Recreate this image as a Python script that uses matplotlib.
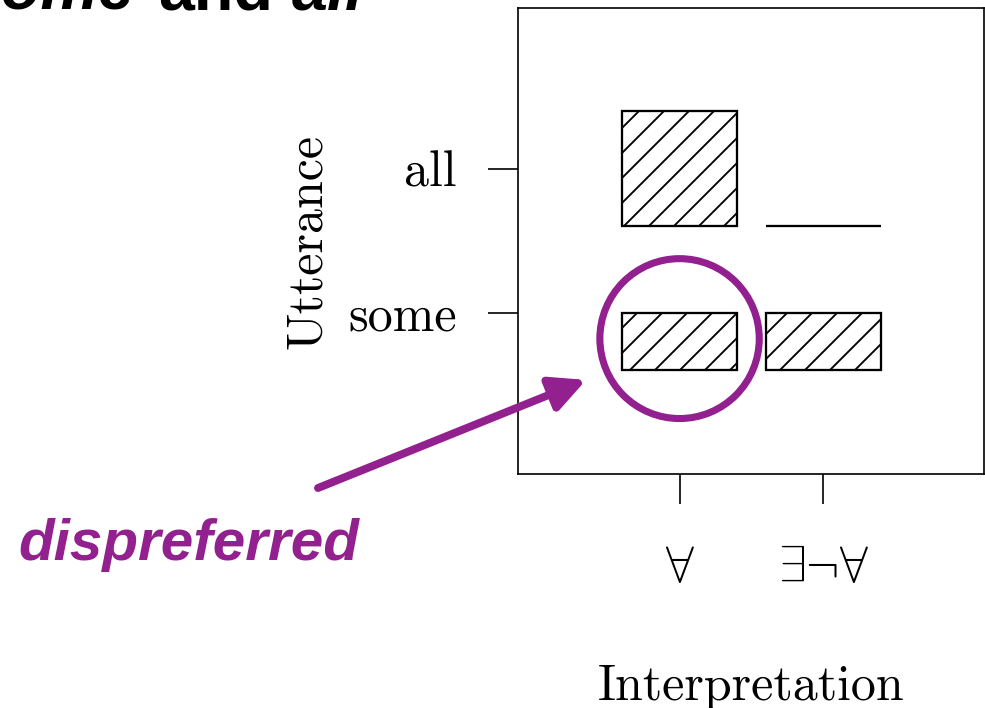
import numpy as np
import matplotlib

matplotlib.use("Agg")
import matplotlib.pyplot as plt
from matplotlib.patches import Circle

# rows = utterance, columns = interpretation
utterances = ["all", "some"]
utterance_pos = [2, 1]
interpretations = [r"$\forall$", r"$\exists\neg\forall$"]
interp_pos = [1, 2]
# P(interpretation | utterance), one row per utterance
probs = [[1.0, 0.0],
         [0.5, 0.5]]

PURPLE = "#92208f"
INK = "#000000"
CELL = 0.8          # size of a full (p=1) box in data units
DPI = 150

plt.rcParams["mathtext.fontset"] = "cm"
plt.rcParams["hatch.linewidth"] = 0.9
plt.rcParams["hatch.color"] = INK

fig = plt.figure(figsize=(985 / DPI, 708 / DPI), dpi=DPI)
fig.patch.set_facecolor("white")
ax = fig.add_axes([518 / 985, 1 - 474 / 708, 466 / 985, 466 / 708])

# boxes sit on the bottom of their cell, height proportional to probability
for yi, row in zip(utterance_pos, probs):
    ax.bar(interp_pos, np.array(row) * CELL, width=CELL, bottom=yi - CELL / 2,
           color="white", edgecolor=INK, hatch="//", lw=1.1)

ax.set_xlim(-0.125, 3.12)
ax.set_ylim(-0.12, 3.115)

ax.set_xticks(interp_pos, interpretations, fontsize=24)
ax.set_yticks(utterance_pos, utterances, fontsize=24, fontfamily="cmr10")
ax.tick_params(axis="both", length=14.4, width=0.8, direction="out", colors=INK)
ax.tick_params(axis="x", pad=19)
ax.tick_params(axis="y", pad=15)
for sp in ax.spines.values():
    sp.set_linewidth(0.8)
    sp.set_color(INK)

ax.set_xlabel("Interpretation", fontsize=24, fontfamily="cmr10")
ax.xaxis.set_label_coords(0.5, -0.457)
ax.xaxis.label.set_verticalalignment("center")
ax.set_ylabel("Utterance", fontsize=24, fontfamily="cmr10")
ax.yaxis.set_label_coords((308 - 518) / 466, 0.5)
ax.yaxis.label.set_verticalalignment("center")

# highlight: circle round the some/forall box, arrow from the note
some_i = utterances.index("some")
ax.add_patch(Circle((interp_pos[0], utterance_pos[some_i] - CELL / 2 + probs[some_i][0] * CELL / 2 + 0.02),
                    0.555, fill=False, ec=PURPLE, lw=3.4))
ax.annotate("", xy=(0.349, 0.533), xycoords="data",
            xytext=(318 / 985, 1 - 488 / 708), textcoords="figure fraction",
            arrowprops=dict(arrowstyle="-|>,head_length=0.7,head_width=0.35",
                            mutation_scale=20, lw=3.8, color=PURPLE,
                            shrinkA=0, shrinkB=0),
            annotation_clip=False)
fig.text(18 / 985, 1 - 560 / 708, "dispreferred", fontsize=28, fontweight="bold",
         fontstyle="italic", fontfamily="Liberation Sans", color=PURPLE, va="baseline")

# slide title, cut off by the top edge as in the source slide
title_kw = dict(fontsize=31, fontweight="bold", fontfamily="Liberation Sans",
                color=INK, va="baseline")
title_y = 1 - 9 / 708
fig.text(134 / 985, title_y, "some", ha="right", fontstyle="italic", **title_kw)
fig.text(158 / 985, title_y, "and", ha="left", **title_kw)
fig.text(292 / 985, title_y, "all", ha="left", fontstyle="italic", **title_kw)

fig.savefig("out.png", dpi=DPI, facecolor="white")
